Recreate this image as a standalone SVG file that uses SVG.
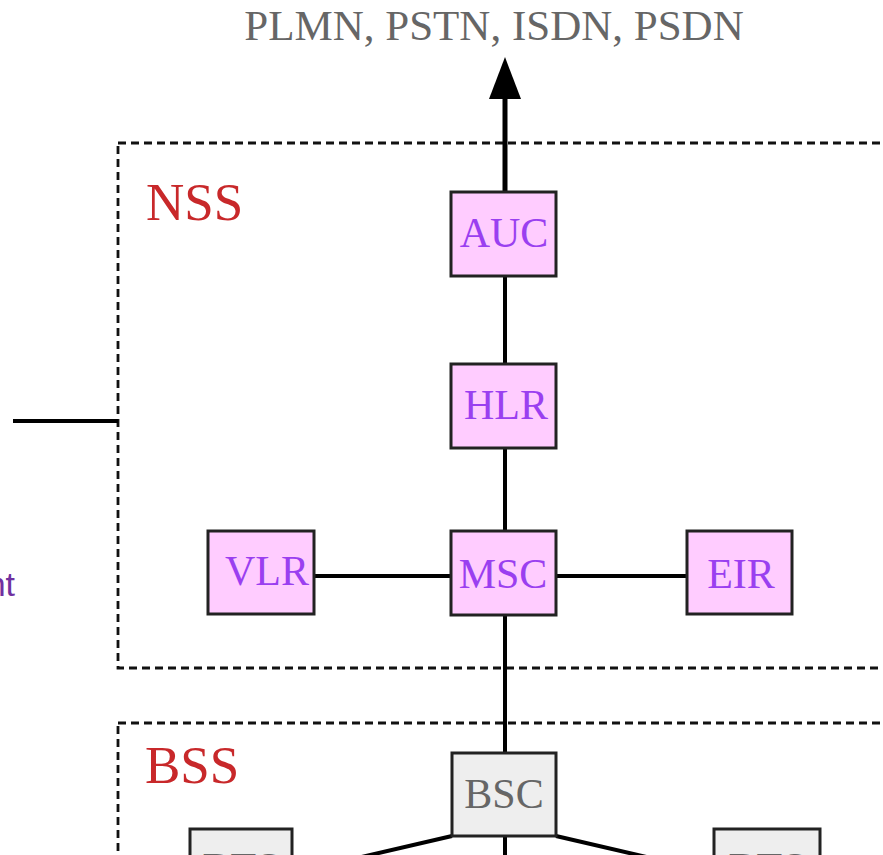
<svg xmlns="http://www.w3.org/2000/svg" width="883" height="855" viewBox="0 0 883 855">
<style>
.grp{fill:none;stroke:#111;stroke-width:2.8;stroke-dasharray:8 5}
.gl{font-family:"Liberation Serif",serif;font-size:53px;fill:#c8282a}
.node rect{stroke:#222;stroke-width:3}
.nss rect{fill:#ffccff}
.bss rect{fill:#eeeeee}
.node text{font-family:"Liberation Serif",serif;font-size:42px;text-anchor:middle}
.nss text{fill:#9a3ff0}
.bss text{fill:#666}
.conn line{stroke:#000;stroke-width:4}
</style>
<rect width="883" height="855" fill="#fff"/>
<text x="494" y="40" font-family="Liberation Serif,serif" font-size="43" fill="#666" text-anchor="middle">PLMN, PSTN, ISDN, PSDN</text>
<text x="15" y="596" font-family="Liberation Sans,sans-serif" font-size="34" fill="#7030a0" text-anchor="end">nt</text>
<g id="nss-group">
<rect class="grp" x="118" y="143" width="800" height="525"/>
<text class="gl" x="146" y="220">NSS</text>
</g>
<g id="bss-group">
<rect class="grp" x="118" y="723" width="800" height="200"/>
<text class="gl" x="145" y="783">BSS</text>
</g>
<g id="connectors" class="conn">
<line x1="505" y1="95" x2="505" y2="192" style="stroke-width:5"/>
<polygon points="505,57 489,99 521,99" fill="#000"/>
<line x1="505" y1="276" x2="505" y2="364"/>
<line x1="505" y1="448" x2="505" y2="531"/>
<line x1="505" y1="615" x2="505" y2="753"/>
<line x1="314" y1="576" x2="451" y2="576"/>
<line x1="556" y1="576" x2="687" y2="576"/>
<line x1="13" y1="421" x2="118" y2="421"/>
<line x1="505" y1="836" x2="505" y2="860"/>
<line x1="452" y1="836" x2="340" y2="862"/>
<line x1="556" y1="836" x2="668" y2="862"/>
</g>
<g id="AUC" class="node nss"><rect x="451" y="192" width="105" height="84"/><text x="504" y="247">AUC</text></g>
<g id="HLR" class="node nss"><rect x="451" y="364" width="105" height="84"/><text x="506" y="419">HLR</text></g>
<g id="MSC" class="node nss"><rect x="451" y="531" width="105" height="84"/><text x="503" y="588">MSC</text></g>
<g id="VLR" class="node nss"><rect x="208" y="531" width="106" height="83"/><text x="267" y="585">VLR</text></g>
<g id="EIR" class="node nss"><rect x="687" y="531" width="105" height="83"/><text x="741" y="588">EIR</text></g>
<g id="BSC" class="node bss"><rect x="452" y="753" width="104" height="83"/><text x="504" y="808">BSC</text></g>
<g id="BTS1" class="node bss"><rect x="190" y="829" width="102" height="83"/><text x="241" y="882">BTS</text></g>
<g id="BTS2" class="node bss"><rect x="714" y="829" width="106" height="83"/><text x="767" y="882">BTS</text></g>
</svg>
